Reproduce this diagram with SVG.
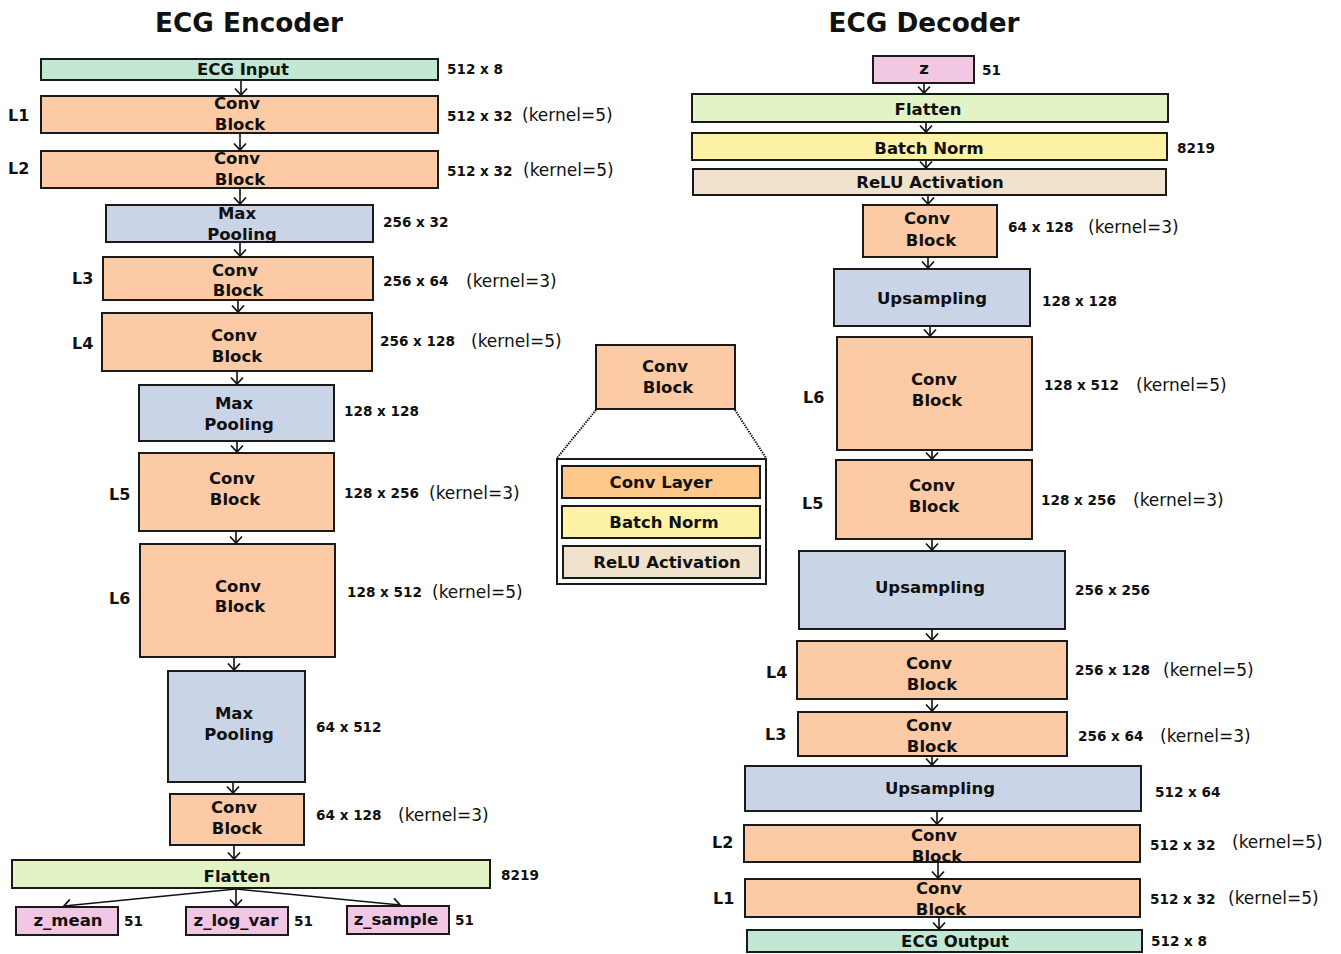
<svg xmlns="http://www.w3.org/2000/svg" width="1341" height="954" viewBox="0 0 1341 954">
<defs>
<marker id="ah" markerUnits="userSpaceOnUse" markerWidth="16" markerHeight="16" viewBox="-9 -8 11 16" refX="0" refY="0" orient="auto">
<path d="M-6.5,-6 L0,0 L-6.5,6" fill="none" stroke="#111" stroke-width="1.7"/>
</marker>
</defs>
<style>
.b{stroke:#1a1a1a;stroke-width:2}
.conv{fill:#fccba6}
.pool{fill:#c9d4e6}
.io{fill:#c2e8d4}
.flat{fill:#e2f3c6}
.bn{fill:#fdf2a6}
.relu{fill:#f0e2cc}
.cl{fill:#fdc88a}
.z{fill:#f2c7e4}
text{font-family:"DejaVu Sans",Verdana,sans-serif;fill:#111}
.t{font-size:16.5px;font-weight:bold;text-anchor:middle}
.h{font-size:26.3px;font-weight:bold;text-anchor:middle}
.d{font-size:13.6px;font-weight:bold}
.k{font-size:17px}
.l{font-size:16px;font-weight:bold}
.c line{stroke:#111;stroke-width:1.6;marker-end:url(#ah)}
</style>
<rect width="1341" height="954" fill="#fff"/>
<text class="h" x="249" y="32">ECG Encoder</text>
<text class="h" x="924" y="32">ECG Decoder</text>

<g id="connectors" class="c">
<line x1="241" y1="80" x2="241" y2="95"/>
<line x1="240" y1="134" x2="240" y2="150"/>
<line x1="240" y1="189" x2="240" y2="204"/>
<line x1="240" y1="243" x2="240" y2="256"/>
<line x1="238" y1="301" x2="238" y2="312"/>
<line x1="237" y1="372" x2="237" y2="384"/>
<line x1="237" y1="442" x2="237" y2="452"/>
<line x1="236" y1="532" x2="236" y2="543"/>
<line x1="234" y1="658" x2="234" y2="670"/>
<line x1="233" y1="783" x2="233" y2="793"/>
<line x1="234" y1="846" x2="234" y2="859"/>
<line x1="236" y1="889" x2="64" y2="906"/>
<line x1="236" y1="889" x2="236" y2="906"/>
<line x1="236" y1="889" x2="400" y2="905"/>
<line x1="924" y1="84" x2="924" y2="93"/>
<line x1="926" y1="123" x2="926" y2="132"/>
<line x1="926" y1="161" x2="926" y2="168"/>
<line x1="928" y1="196" x2="928" y2="204"/>
<line x1="928" y1="258" x2="928" y2="268"/>
<line x1="930" y1="327" x2="930" y2="336"/>
<line x1="932" y1="451" x2="932" y2="459"/>
<line x1="932" y1="540" x2="932" y2="550"/>
<line x1="932" y1="630" x2="932" y2="640"/>
<line x1="932" y1="700" x2="932" y2="711"/>
<line x1="932" y1="757" x2="932" y2="765"/>
<line x1="937" y1="812" x2="937" y2="824"/>
<line x1="938" y1="863" x2="938" y2="878"/>
<line x1="939" y1="918" x2="939" y2="929"/>
<line x1="661" y1="499" x2="661" y2="505"/>
<line x1="661" y1="539" x2="661" y2="545"/>
<line x1="596" y1="410" x2="557" y2="458" style="marker-end:none;stroke-dasharray:1.4 1.1;stroke-width:2"/>
<line x1="735" y1="410" x2="766" y2="458" style="marker-end:none;stroke-dasharray:1.4 1.1;stroke-width:2"/>
</g>

<!-- Encoder -->
<g id="enc_input"><rect class="b io" x="41" y="59" width="397" height="21"/><text class="t" x="243" y="75">ECG Input</text><text class="d" x="447" y="74">512 x 8</text></g>
<g id="enc_L1"><rect class="b conv" x="41" y="96" width="397" height="37"/><text class="t" x="237" y="109">Conv</text><text class="t" x="240" y="130">Block</text><text class="l" x="8" y="121">L1</text><text class="d" x="447" y="121">512 x 32</text><text class="k" x="522" y="121">(kernel=5)</text></g>
<g id="enc_L2"><rect class="b conv" x="41" y="151" width="397" height="37"/><text class="t" x="237" y="164">Conv</text><text class="t" x="240" y="185">Block</text><text class="l" x="8" y="174">L2</text><text class="d" x="447" y="176">512 x 32</text><text class="k" x="523" y="176">(kernel=5)</text></g>
<g id="enc_pool1"><rect class="b pool" x="106" y="205" width="267" height="37"/><text class="t" x="237" y="219">Max</text><text class="t" x="242" y="240">Pooling</text><text class="d" x="383" y="227">256 x 32</text></g>
<g id="enc_L3"><rect class="b conv" x="103" y="257" width="270" height="43"/><text class="t" x="235" y="276">Conv</text><text class="t" x="238" y="296">Block</text><text class="l" x="72" y="284">L3</text><text class="d" x="383" y="286">256 x 64</text><text class="k" x="466" y="287">(kernel=3)</text></g>
<g id="enc_L4"><rect class="b conv" x="102" y="313" width="270" height="58"/><text class="t" x="234" y="341">Conv</text><text class="t" x="237" y="362">Block</text><text class="l" x="72" y="349">L4</text><text class="d" x="380" y="346">256 x 128</text><text class="k" x="471" y="347">(kernel=5)</text></g>
<g id="enc_pool2"><rect class="b pool" x="139" y="385" width="195" height="56"/><text class="t" x="234" y="409">Max</text><text class="t" x="239" y="430">Pooling</text><text class="d" x="344" y="416">128 x 128</text></g>
<g id="enc_L5"><rect class="b conv" x="139" y="453" width="195" height="78"/><text class="t" x="232" y="484">Conv</text><text class="t" x="235" y="505">Block</text><text class="l" x="109" y="500">L5</text><text class="d" x="344" y="498">128 x 256</text><text class="k" x="429" y="499">(kernel=3)</text></g>
<g id="enc_L6"><rect class="b conv" x="140" y="544" width="195" height="113"/><text class="t" x="238" y="592">Conv</text><text class="t" x="240" y="612">Block</text><text class="l" x="109" y="604">L6</text><text class="d" x="347" y="597">128 x 512</text><text class="k" x="432" y="598">(kernel=5)</text></g>
<g id="enc_pool3"><rect class="b pool" x="168" y="671" width="137" height="111"/><text class="t" x="234" y="719">Max</text><text class="t" x="239" y="740">Pooling</text><text class="d" x="316" y="732">64 x 512</text></g>
<g id="enc_conv"><rect class="b conv" x="170" y="794" width="134" height="51"/><text class="t" x="234" y="813">Conv</text><text class="t" x="237" y="834">Block</text><text class="d" x="316" y="820">64 x 128</text><text class="k" x="398" y="821">(kernel=3)</text></g>
<g id="enc_flatten"><rect class="b flat" x="12" y="860" width="478" height="28"/><text class="t" x="237" y="882">Flatten</text><text class="d" x="501" y="880">8219</text></g>
<g id="z_mean"><rect class="b z" x="16" y="907" width="102" height="28"/><text class="t" x="68" y="926">z_mean</text><text class="d" x="124" y="926">51</text></g>
<g id="z_log_var"><rect class="b z" x="186" y="907" width="102" height="28"/><text class="t" x="236" y="926">z_log_var</text><text class="d" x="294" y="926">51</text></g>
<g id="z_sample"><rect class="b z" x="347" y="906" width="102" height="28"/><text class="t" x="396" y="925">z_sample</text><text class="d" x="455" y="925">51</text></g>

<!-- Inset -->
<g id="inset_conv"><rect class="b conv" x="596" y="345" width="139" height="64"/><text class="t" x="665" y="372">Conv</text><text class="t" x="668" y="393">Block</text></g>
<g id="inset_box"><rect x="557" y="459" width="209" height="125" fill="#fff" stroke="#1a1a1a" stroke-width="2"/></g>
<g id="inset_convlayer"><rect class="b cl" x="562" y="466" width="198" height="32"/><text class="t" x="661" y="488">Conv Layer</text></g>
<g id="inset_bn"><rect class="b bn" x="562" y="506" width="198" height="32"/><text class="t" x="664" y="528">Batch Norm</text></g>
<g id="inset_relu"><rect class="b relu" x="563" y="546" width="197" height="32"/><text class="t" x="667" y="568">ReLU Activation</text></g>

<!-- Decoder -->
<g id="dec_z"><rect class="b z" x="873" y="56" width="101" height="27"/><text class="t" x="924" y="74">z</text><text class="d" x="982" y="75">51</text></g>
<g id="dec_flatten"><rect class="b flat" x="692" y="94" width="476" height="28"/><text class="t" x="928" y="115">Flatten</text></g>
<g id="dec_bn"><rect class="b bn" x="692" y="133" width="475" height="27"/><text class="t" x="929" y="154">Batch Norm</text><text class="d" x="1177" y="153">8219</text></g>
<g id="dec_relu"><rect class="b relu" x="693" y="169" width="473" height="26"/><text class="t" x="930" y="188">ReLU Activation</text></g>
<g id="dec_conv"><rect class="b conv" x="863" y="205" width="134" height="52"/><text class="t" x="927" y="224">Conv</text><text class="t" x="931" y="246">Block</text><text class="d" x="1008" y="232">64 x 128</text><text class="k" x="1088" y="233">(kernel=3)</text></g>
<g id="dec_up1"><rect class="b pool" x="834" y="269" width="196" height="57"/><text class="t" x="932" y="304">Upsampling</text><text class="d" x="1042" y="306">128 x 128</text></g>
<g id="dec_L6"><rect class="b conv" x="837" y="337" width="195" height="113"/><text class="t" x="934" y="385">Conv</text><text class="t" x="937" y="406">Block</text><text class="l" x="803" y="403">L6</text><text class="d" x="1044" y="390">128 x 512</text><text class="k" x="1136" y="391">(kernel=5)</text></g>
<g id="dec_L5"><rect class="b conv" x="836" y="460" width="196" height="79"/><text class="t" x="932" y="491">Conv</text><text class="t" x="934" y="512">Block</text><text class="l" x="802" y="509">L5</text><text class="d" x="1041" y="505">128 x 256</text><text class="k" x="1133" y="506">(kernel=3)</text></g>
<g id="dec_up2"><rect class="b pool" x="799" y="551" width="266" height="78"/><text class="t" x="930" y="593">Upsampling</text><text class="d" x="1075" y="595">256 x 256</text></g>
<g id="dec_L4"><rect class="b conv" x="797" y="641" width="270" height="58"/><text class="t" x="929" y="669">Conv</text><text class="t" x="932" y="690">Block</text><text class="l" x="766" y="678">L4</text><text class="d" x="1075" y="675">256 x 128</text><text class="k" x="1163" y="676">(kernel=5)</text></g>
<g id="dec_L3"><rect class="b conv" x="798" y="712" width="269" height="44"/><text class="t" x="929" y="731">Conv</text><text class="t" x="932" y="752">Block</text><text class="l" x="765" y="740">L3</text><text class="d" x="1078" y="741">256 x 64</text><text class="k" x="1160" y="742">(kernel=3)</text></g>
<g id="dec_up3"><rect class="b pool" x="745" y="766" width="396" height="45"/><text class="t" x="940" y="794">Upsampling</text><text class="d" x="1155" y="797">512 x 64</text></g>
<g id="dec_L2"><rect class="b conv" x="744" y="825" width="396" height="37"/><text class="t" x="934" y="841">Conv</text><text class="t" x="937" y="862">Block</text><text class="l" x="712" y="848">L2</text><text class="d" x="1150" y="850">512 x 32</text><text class="k" x="1232" y="848">(kernel=5)</text></g>
<g id="dec_L1"><rect class="b conv" x="745" y="879" width="395" height="38"/><text class="t" x="939" y="894">Conv</text><text class="t" x="941" y="915">Block</text><text class="l" x="713" y="904">L1</text><text class="d" x="1150" y="904">512 x 32</text><text class="k" x="1228" y="904">(kernel=5)</text></g>
<g id="dec_output"><rect class="b io" x="747" y="930" width="395" height="22"/><text class="t" x="955" y="947">ECG Output</text><text class="d" x="1151" y="946">512 x 8</text></g>
</svg>
